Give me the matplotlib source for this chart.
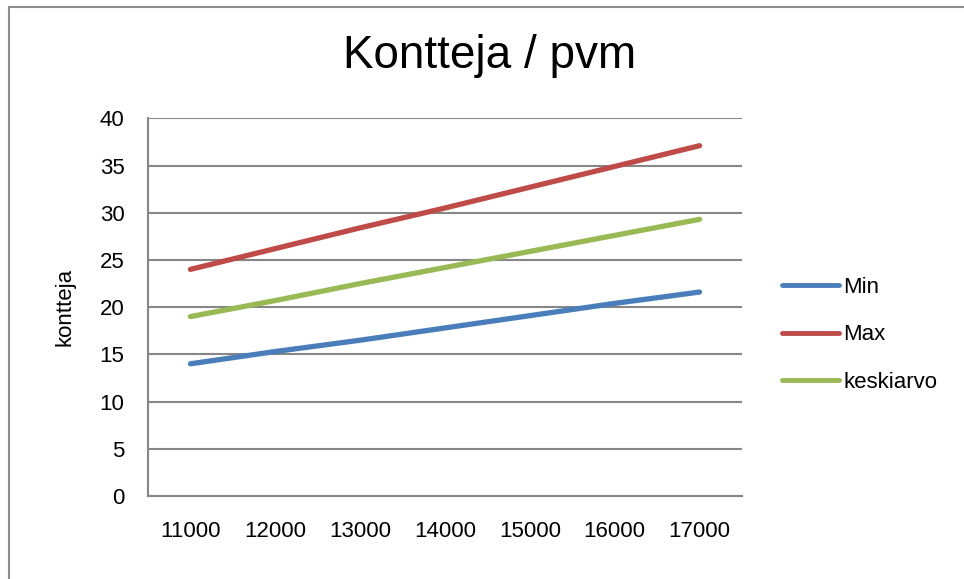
import matplotlib
matplotlib.use("Agg")
from matplotlib import pyplot as plt
from matplotlib.patches import Rectangle

categories = ["11000", "12000", "13000", "14000", "15000", "16000", "17000"]
min_vals = [14.0, 15.3, 16.5, 17.8, 19.1, 20.4, 21.6]
max_vals = [24.0, 26.2, 28.4, 30.5, 32.7, 34.9, 37.1]
avg_vals = [19.0, 20.7, 22.5, 24.2, 25.9, 27.6, 29.3]
y_ticks = [0, 5, 10, 15, 20, 25, 30, 35, 40]

plt.rcParams['font.family'] = ['Liberation Sans', 'DejaVu Sans']
small = 16

fig = plt.figure(figsize=(9.64, 5.79), dpi=100)
W, H = 964, 579

# chart border like excel
fig.patches.append(Rectangle((9 / W, -0.05), 1.2, 1 - 7 / H + 0.05, transform=fig.transFigure,
                             fill=False, edgecolor='#8c8c8c', linewidth=1.5))

ax = fig.add_axes([148 / W, 1 - 496 / H, (742 - 148) / W, (496 - 118.3) / H])
x = list(range(len(categories)))
ax.plot(x, min_vals, color='#4a7ebb', linewidth=3.8, solid_capstyle='round', label='Min')
ax.plot(x, max_vals, color='#be4b48', linewidth=3.8, solid_capstyle='round', label='Max')
ax.plot(x, avg_vals, color='#98b954', linewidth=3.8, solid_capstyle='round', label='keskiarvo')

ax.set_xlim(-0.5, len(categories) - 0.5)
ax.set_ylim(0, 40)
ax.set_xticks(x)
ax.set_xticklabels(categories)
ax.set_yticks(y_ticks)
ax.tick_params(axis='both', length=0, labelsize=small)
ax.tick_params(axis='y', pad=17)
ax.tick_params(axis='x', pad=18)
ax.grid(axis='y', color='#868686', linewidth=1.5)
ax.set_axisbelow(True)
for side in ['top', 'right']:
    ax.spines[side].set_visible(False)
for side in ['left', 'bottom']:
    ax.spines[side].set_color('#868686')
    ax.spines[side].set_linewidth(1.5)

ax.set_ylabel('kontteja', fontsize=small, labelpad=17)
fig.text(490 / W, 1 - 56 / H, 'Kontteja / pvm', fontsize=33, ha='center', va='center')

leg = fig.legend(loc='center left', bbox_to_anchor=(782 / W, 1 - 335 / H), frameon=False,
                 borderpad=0, borderaxespad=0, fontsize=small, handlelength=2.55,
                 handletextpad=0.2, labelspacing=1.2)
for line in leg.get_lines():
    line.set_linewidth(3.5)

fig.savefig('out.png', dpi=100)
